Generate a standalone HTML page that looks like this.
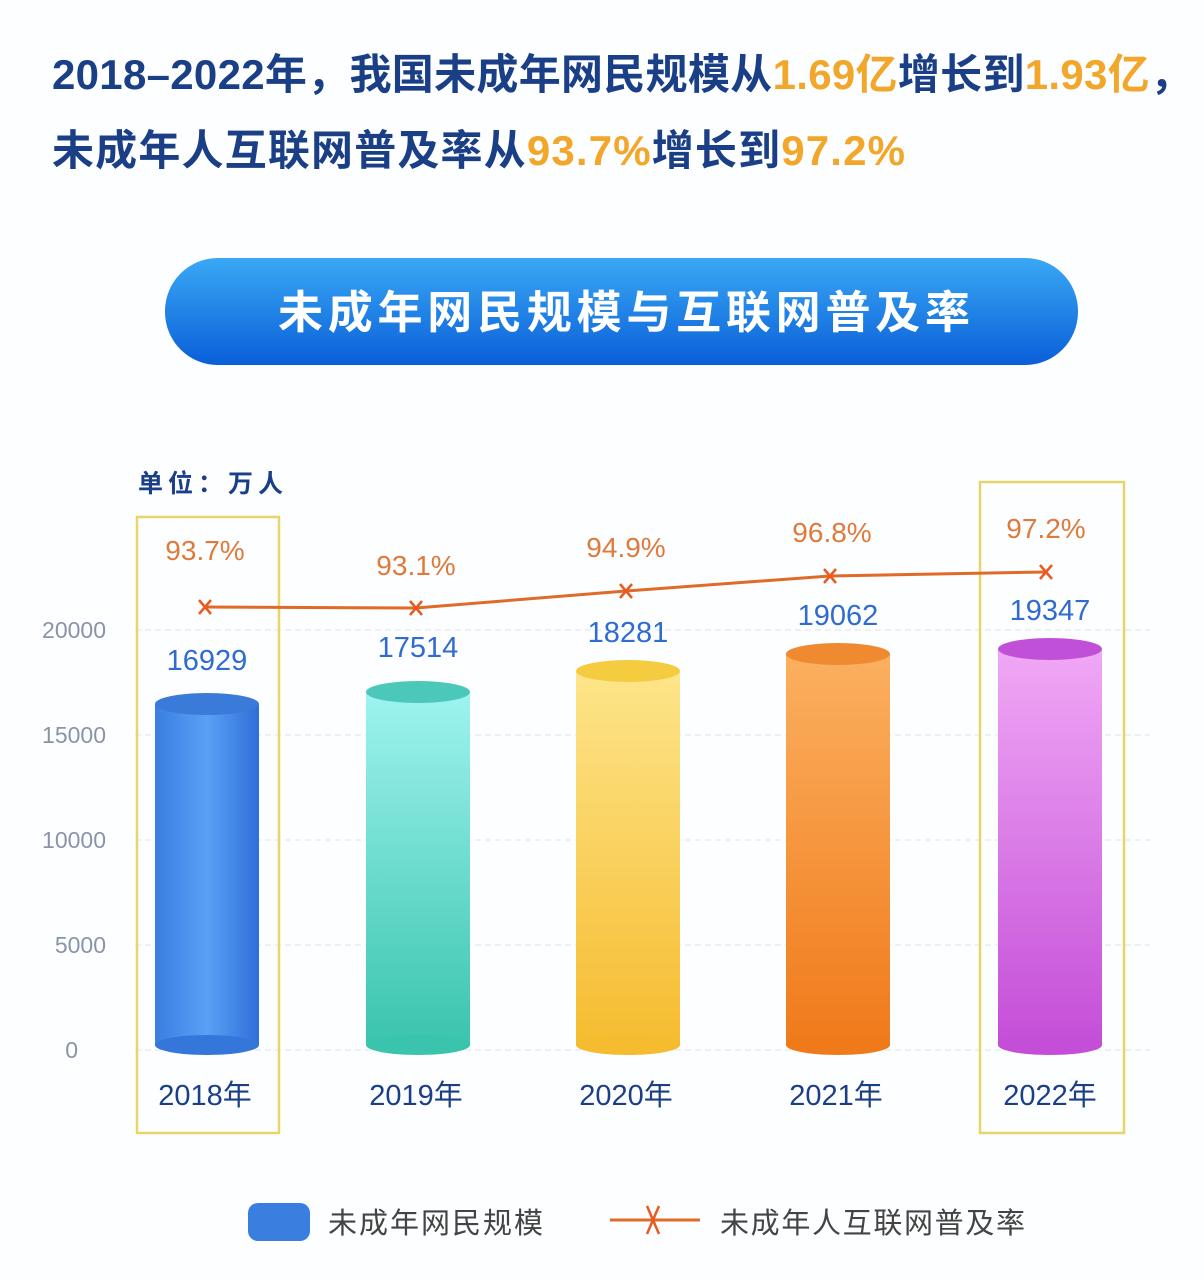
<!DOCTYPE html>
<html><head><meta charset="utf-8"><style>
body{margin:0;width:1204px;height:1280px;background:#fdfeff;overflow:hidden}
svg{display:block}
</style></head><body>
<svg width="1204" height="1280" xmlns="http://www.w3.org/2000/svg" font-family="Liberation Sans, Noto Sans CJK SC, sans-serif">
<defs>
<linearGradient id="pill" x1="0" y1="0" x2="0" y2="1"><stop offset="0" stop-color="#3aa8f5"/><stop offset="1" stop-color="#0a5fd8"/></linearGradient>
<linearGradient id="b1" x1="0" x2="1"><stop offset="0" stop-color="#3a7ee0"/><stop offset="0.5" stop-color="#5aa0f5"/><stop offset="1" stop-color="#2f6fd8"/></linearGradient>
<linearGradient id="b2" x1="0" y1="0" x2="0" y2="1"><stop offset="0" stop-color="#9ff3f0"/><stop offset="1" stop-color="#3ac4ae"/></linearGradient>
<linearGradient id="b3" x1="0" y1="0" x2="0" y2="1"><stop offset="0" stop-color="#fde58a"/><stop offset="1" stop-color="#f6bc30"/></linearGradient>
<linearGradient id="b4" x1="0" y1="0" x2="0" y2="1"><stop offset="0" stop-color="#fbb060"/><stop offset="1" stop-color="#f07a1a"/></linearGradient>
<linearGradient id="b5" x1="0" y1="0" x2="0" y2="1"><stop offset="0" stop-color="#f0a8f5"/><stop offset="1" stop-color="#c44ed8"/></linearGradient>
</defs>
<g font-weight="bold" font-size="42">
<text x="52" y="89" fill="#1b3f86" textLength="1140" lengthAdjust="spacing">2018–2022年，我国未成年网民规模从<tspan fill="#f2a62a">1.69亿</tspan>增长到<tspan fill="#f2a62a">1.93亿</tspan>，</text>
<text x="52" y="165" fill="#1b3f86" textLength="853" lengthAdjust="spacing">未成年人互联网普及率从<tspan fill="#f2a62a">93.7%</tspan>增长到<tspan fill="#f2a62a">97.2%</tspan></text>
</g>
<rect x="165" y="258" width="913" height="107" rx="53" fill="url(#pill)"/>
<text x="278" y="328" fill="#fff" font-size="45" font-weight="bold" textLength="692" lengthAdjust="spacing">未成年网民规模与互联网普及率</text>
<text x="138" y="492" fill="#1b3f86" font-size="25" font-weight="bold" textLength="145" lengthAdjust="spacing">单位：万人</text>
<g stroke="#dde3ea" stroke-dasharray="6 4">
<line x1="135" y1="630" x2="1150" y2="630"/><line x1="135" y1="735" x2="1150" y2="735"/><line x1="135" y1="840" x2="1150" y2="840"/><line x1="135" y1="945" x2="1150" y2="945"/><line x1="135" y1="1050" x2="1150" y2="1050"/>
</g>
<g fill="#8a94a8" font-size="23" text-anchor="end">
<text x="106" y="638">20000</text><text x="106" y="743">15000</text><text x="106" y="848">10000</text><text x="106" y="953">5000</text><text x="78" y="1058">0</text>
</g>
<rect x="137" y="517" width="142" height="616" fill="none" stroke="#e6d66a" stroke-width="2.5"/>
<rect x="980" y="482" width="144" height="651" fill="none" stroke="#e6d66a" stroke-width="2.5"/>
<g>
<rect x="155" y="704" width="104" height="341" fill="url(#b1)"/><ellipse cx="207" cy="1045" rx="52" ry="10" fill="#3576da"/><ellipse cx="207" cy="704" rx="52" ry="11" fill="#3a7ad8"/>
<rect x="366" y="692" width="104" height="353" fill="url(#b2)"/><ellipse cx="418" cy="1045" rx="52" ry="10" fill="#3ac4ae"/><ellipse cx="418" cy="692" rx="52" ry="11" fill="#4cc8b8"/>
<rect x="576" y="671" width="104" height="374" fill="url(#b3)"/><ellipse cx="628" cy="1045" rx="52" ry="10" fill="#f6bc30"/><ellipse cx="628" cy="671" rx="52" ry="11" fill="#f5cc40"/>
<rect x="786" y="654" width="104" height="391" fill="url(#b4)"/><ellipse cx="838" cy="1045" rx="52" ry="10" fill="#f07a1a"/><ellipse cx="838" cy="654" rx="52" ry="11" fill="#f08a30"/>
<rect x="998" y="649" width="104" height="396" fill="url(#b5)"/><ellipse cx="1050" cy="1045" rx="52" ry="10" fill="#c44ed8"/><ellipse cx="1050" cy="649" rx="52" ry="11" fill="#c050d8"/>
</g>
<g fill="#2f6bd0" font-size="29" text-anchor="middle">
<text x="207" y="670">16929</text><text x="418" y="657">17514</text><text x="628" y="642">18281</text><text x="838" y="625">19062</text><text x="1050" y="620">19347</text>
</g>
<polyline points="205,607 416,608 626,591 830,576 1046,572" fill="none" stroke="#e06a28" stroke-width="3"/>
<g stroke="#e85a20" stroke-width="2.5">
<path d="M199,600l12,14M211,600l-12,14"/><path d="M410,601l12,14M422,601l-12,14"/><path d="M620,584l12,14M632,584l-12,14"/><path d="M824,569l12,14M836,569l-12,14"/><path d="M1040,565l12,14M1052,565l-12,14"/>
</g>
<g fill="#e07a3a" font-size="28" text-anchor="middle">
<text x="205" y="560">93.7%</text><text x="416" y="575">93.1%</text><text x="626" y="557">94.9%</text><text x="832" y="542">96.8%</text><text x="1046" y="538">97.2%</text>
</g>
<g fill="#1b3f86" font-size="29" text-anchor="middle">
<text x="205" y="1105">2018年</text><text x="416" y="1105">2019年</text><text x="626" y="1105">2020年</text><text x="836" y="1105">2021年</text><text x="1050" y="1105">2022年</text>
</g>
<rect x="248" y="1203" width="62" height="38" rx="10" fill="#3a7ee0"/>
<text x="328" y="1233" fill="#444" font-size="29" textLength="215" lengthAdjust="spacing">未成年网民规模</text>
<line x1="610" y1="1220" x2="700" y2="1220" stroke="#e06a28" stroke-width="3"/>
<path d="M647,1206l12,28M659,1206l-12,28" stroke="#e85a20" stroke-width="2.5"/>
<text x="720" y="1233" fill="#444" font-size="29" textLength="305" lengthAdjust="spacing">未成年人互联网普及率</text>
</svg>
</body></html>
